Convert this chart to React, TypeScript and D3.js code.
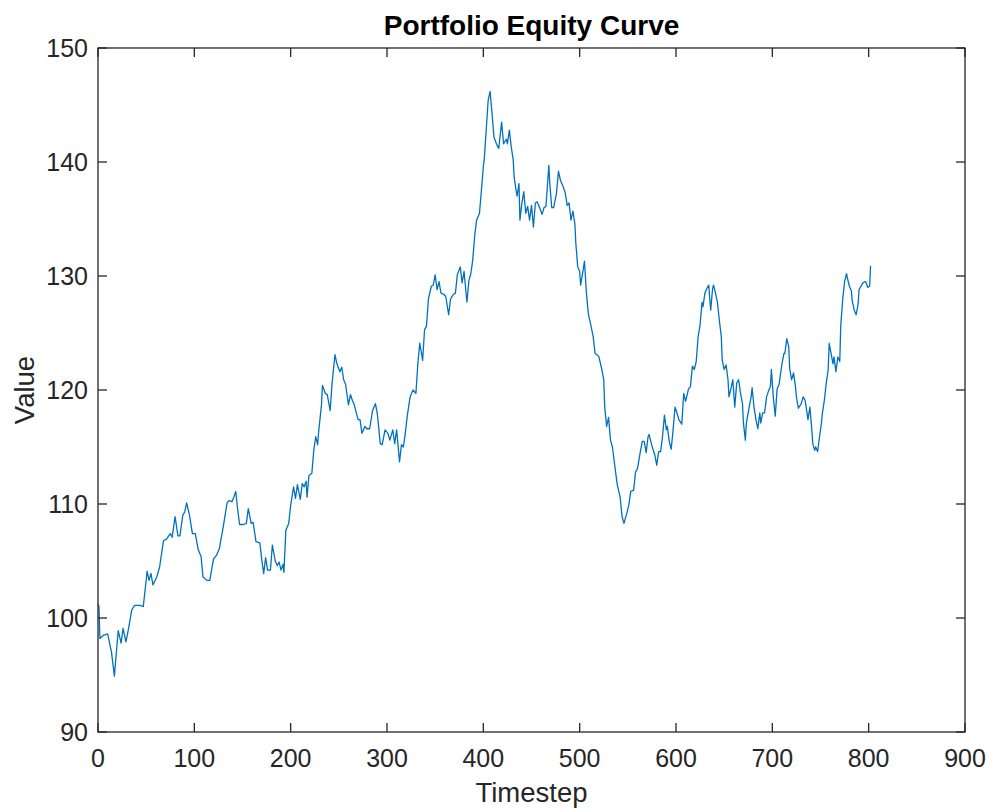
import React from "react";
import * as d3 from "d3";

const timesteps: number[] = [
  0, 1, 2, 6, 10, 14, 17, 21, 24, 26, 29, 32, 35, 38, 44, 47, 51, 53, 55, 57, 61, 64, 68, 71, 75, 77, 80, 83, 85, 88, 90, 92, 95, 98, 101, 104, 107, 109, 113, 116, 120, 123, 126,
  130, 134, 136, 139, 141, 143, 145, 147, 151, 154, 156, 159, 161, 164, 168, 170, 172, 174, 176, 179, 181, 184, 186, 188, 190, 192, 193, 195, 198, 200, 203, 205, 207, 210, 212, 214, 216, 217, 219, 222, 224, 226, 228, 229, 232, 233, 236, 238, 241, 243, 246, 248, 251, 253, 255, 257, 260, 262, 264, 266,
  270, 272, 274, 277, 279, 282, 285, 288, 290, 293, 295, 298, 301, 303, 306, 308, 310, 313, 315, 317, 319, 321, 324, 327, 330, 332, 334, 337, 339, 341, 343, 346, 348, 350, 352, 354, 356, 359, 361, 364, 366, 369, 371, 373, 376, 378, 380, 383, 385,
  387, 389, 391, 393, 396, 398, 400, 401, 403, 405, 407, 409, 411, 414, 416, 417, 419, 421, 424, 425, 427, 429, 431, 432, 434, 435, 437, 438, 440, 442, 444, 446, 448, 450, 452, 454, 456, 458, 461, 463, 465, 468, 469, 471, 473, 476, 478, 480, 483, 485, 487, 489, 491, 493, 495, 496, 498, 500, 501, 503, 505, 507, 509, 511, 514, 516,
  518, 520, 523, 525, 526, 528, 530, 532, 534, 537, 539, 542, 544, 546, 549, 551, 553, 556, 558, 560, 563, 565, 567, 569, 571, 572, 575, 578, 580, 582, 584, 586, 588, 590, 591, 593, 595, 597, 599, 601, 603, 606, 608, 610, 613, 615, 617, 619, 621, 623, 625, 627, 628, 630, 632, 634, 636, 638, 639, 641, 643, 645, 647, 648, 650, 652, 654, 655,
  657, 659, 661, 663, 665, 667, 669, 670, 672, 673, 676, 678, 679, 681, 683, 685, 687, 688, 690, 692, 694, 696, 698, 699, 701, 703, 705, 707, 710, 712, 713, 715, 717, 718, 720, 722, 724, 725, 727, 730, 732, 734, 736, 737, 739, 741, 742, 744, 745, 747, 749, 751, 752, 754, 756, 758, 759, 761, 763, 764, 766, 768, 770, 771, 773, 775, 777, 778, 780, 782, 783, 785, 787, 789, 790, 792, 794, 796, 797, 799, 801, 802,
];

const equity: number[] = [
  101.2, 101.0, 98.2, 98.5, 98.6, 97.0, 94.9, 98.9, 97.8, 99.1, 97.9, 99.2, 100.7, 101.1, 101.1, 101.0, 104.1, 103.3, 103.9, 102.9, 103.6, 104.5, 106.8, 106.9, 107.4, 107.1, 108.9, 107.2, 107.2, 109.0, 109.3, 110.1, 109.0, 107.4, 107.4, 106.0, 105.4, 103.6, 103.3, 103.3, 105.2, 105.5, 106.1,
  108.0, 110.1, 110.3, 110.2, 110.6, 111.1, 109.5, 108.2, 108.2, 108.3, 109.6, 108.3, 108.4, 106.7, 106.6, 105.1, 103.9, 105.3, 104.2, 104.2, 106.4, 105.0, 104.6, 104.9, 104.2, 104.7, 104.0, 107.7, 108.3, 109.9, 111.5, 110.5, 111.7, 110.4, 111.8, 111.5, 112.0, 110.6, 112.5, 112.7, 114.7, 115.9, 115.2, 116.3, 118.7, 120.4, 119.7, 119.6, 118.2, 120.6, 123.1, 122.3, 121.6, 122.0, 120.9, 120.5, 118.7, 119.6, 119.1, 118.7,
  117.4, 117.4, 116.2, 116.8, 116.6, 116.6, 118.2, 118.8, 117.9, 115.3, 115.2, 116.5, 116.2, 115.6, 116.5, 115.3, 116.5, 113.7, 115.2, 115.0, 116.2, 117.7, 119.4, 120.0, 119.7, 122.3, 124.1, 122.6, 125.3, 125.6, 128.0, 129.1, 129.2, 130.1, 128.8, 129.5, 128.5, 128.4, 128.2, 126.6, 128.0, 128.4, 128.5, 130.1, 130.8, 129.4, 130.4, 127.7, 129.6,
  130.2, 131.4, 133.5, 134.9, 135.5, 137.5, 139.6, 140.3, 142.8, 145.4, 146.2, 144.3, 142.2, 141.5, 141.2, 142.0, 143.5, 141.6, 142.0, 141.6, 142.8, 141.3, 140.2, 138.7, 137.5, 137.0, 138.1, 134.9, 136.4, 137.4, 135.5, 136.1, 134.9, 136.2, 134.3, 136.4, 136.5, 136.1, 135.4, 136.0, 136.1, 139.7, 138.1, 136.0, 136.0, 137.3, 139.2, 138.4, 137.8, 137.3, 136.2, 136.4, 134.9, 135.7, 134.6, 132.9, 130.8, 130.4, 129.2, 130.2, 131.3, 128.5, 126.7, 125.9, 124.7, 123.2,
  123.1, 122.9, 121.8, 120.9, 118.5, 116.8, 117.6, 115.6, 115.0, 113.0, 111.7, 110.6, 108.9, 108.3, 109.2, 109.9, 111.1, 111.2, 112.8, 113.1, 114.6, 115.5, 115.5, 114.5, 115.9, 116.1, 115.1, 114.3, 113.4, 114.6, 114.6, 115.9, 117.8, 116.5, 116.8, 115.5, 114.8, 116.5, 118.5, 118.0, 117.4, 117.0, 119.7, 119.0, 120.1, 120.3, 122.1, 121.8, 122.5, 124.7, 125.7, 127.7, 127.3, 128.5, 128.9, 129.2, 127.0, 128.9, 129.2, 128.5, 127.7, 126.1, 124.7, 122.6, 121.8, 122.2, 120.9, 119.4,
  120.1, 120.9, 118.5, 120.6, 120.9, 119.7, 118.8, 117.1, 115.6, 117.1, 118.5, 119.4, 120.2, 118.5, 117.4, 116.6, 118.0, 117.1, 118.0, 118.0, 119.4, 119.9, 120.3, 121.8, 119.4, 117.7, 120.1, 120.5, 122.3, 123.2, 123.2, 124.5, 123.8, 121.9, 120.9, 121.5, 120.3, 119.4, 118.4, 118.8, 119.4, 119.1, 118.0, 117.4, 118.5, 116.5, 115.3, 114.7, 115.0, 114.6, 115.9, 117.1, 118.0, 119.1, 120.6, 121.8, 124.1, 123.2, 122.3, 122.9, 121.6, 122.9, 122.5, 125.6, 127.9, 129.5, 130.2, 129.8, 129.1, 128.7, 127.8, 127.0, 126.6, 127.5, 128.8, 129.1, 129.4, 129.5, 129.5, 129.0, 129.1, 130.9,
];

const xTicks: number[] = [0, 100, 200, 300, 400, 500, 600, 700, 800, 900];
const yTicks: number[] = [90, 100, 110, 120, 130, 140, 150];

const titleText = "Portfolio Equity Curve";
const xLabelText = "Timestep";
const yLabelText = "Value";

const W = 988;
const H = 808;
const left = 98;
const right = 965;
const top = 48;
const bottom = 732;
const tickLen = 9;
const axisColor = "#262626";
const font = "'Liberation Sans', Arial, Helvetica, sans-serif";

export default function App() {
  const x = d3.scaleLinear().domain([0, 900]).range([left, right]);
  const y = d3.scaleLinear().domain([90, 150]).range([bottom, top]);
  const pts: [number, number][] = timesteps.map((t, i) => [t, equity[i]]);
  const line = d3
    .line<[number, number]>()
    .x((d) => x(d[0]))
    .y((d) => y(d[1]));

  return (
    <svg
      width={W}
      height={H}
      style={{ position: "absolute", left: 0, top: 0, background: "#fff" }}
      fontFamily={font}
    >
      <rect x={0} y={0} width={W} height={H} fill="#fff" />
      <path d={line(pts) || ""} fill="none" stroke="#0072BD" strokeWidth={1.3} strokeLinejoin="round" />
      {/* box */}
      <rect
        x={left}
        y={top}
        width={right - left}
        height={bottom - top}
        fill="none"
        stroke={axisColor}
        strokeWidth={1.3}
      />
      {xTicks.map((t) => (
        <g key={"x" + t}>
          <line x1={x(t)} x2={x(t)} y1={bottom} y2={bottom - tickLen} stroke={axisColor} strokeWidth={1.3} />
          <line x1={x(t)} x2={x(t)} y1={top} y2={top + tickLen} stroke={axisColor} strokeWidth={1.3} />
          <text x={x(t)} y={767} textAnchor="middle" fontSize={25} fill={axisColor}>
            {t}
          </text>
        </g>
      ))}
      {yTicks.map((t) => (
        <g key={"y" + t}>
          <line x1={left} x2={left + tickLen} y1={y(t)} y2={y(t)} stroke={axisColor} strokeWidth={1.3} />
          <line x1={right} x2={right - tickLen} y1={y(t)} y2={y(t)} stroke={axisColor} strokeWidth={1.3} />
          <text x={88} y={y(t) + 9} textAnchor="end" fontSize={25} fill={axisColor}>
            {t}
          </text>
        </g>
      ))}
      <text x={(left + right) / 2} y={35} textAnchor="middle" fontSize={28} fontWeight="bold" fill="#000">
        {titleText}
      </text>
      <text x={(left + right) / 2} y={802} textAnchor="middle" fontSize={27.5} fill={axisColor}>
        {xLabelText}
      </text>
      <text
        transform={`translate(34, ${(top + bottom) / 2}) rotate(-90)`}
        textAnchor="middle"
        fontSize={27.5}
        fill={axisColor}
      >
        {yLabelText}
      </text>
    </svg>
  );
}
